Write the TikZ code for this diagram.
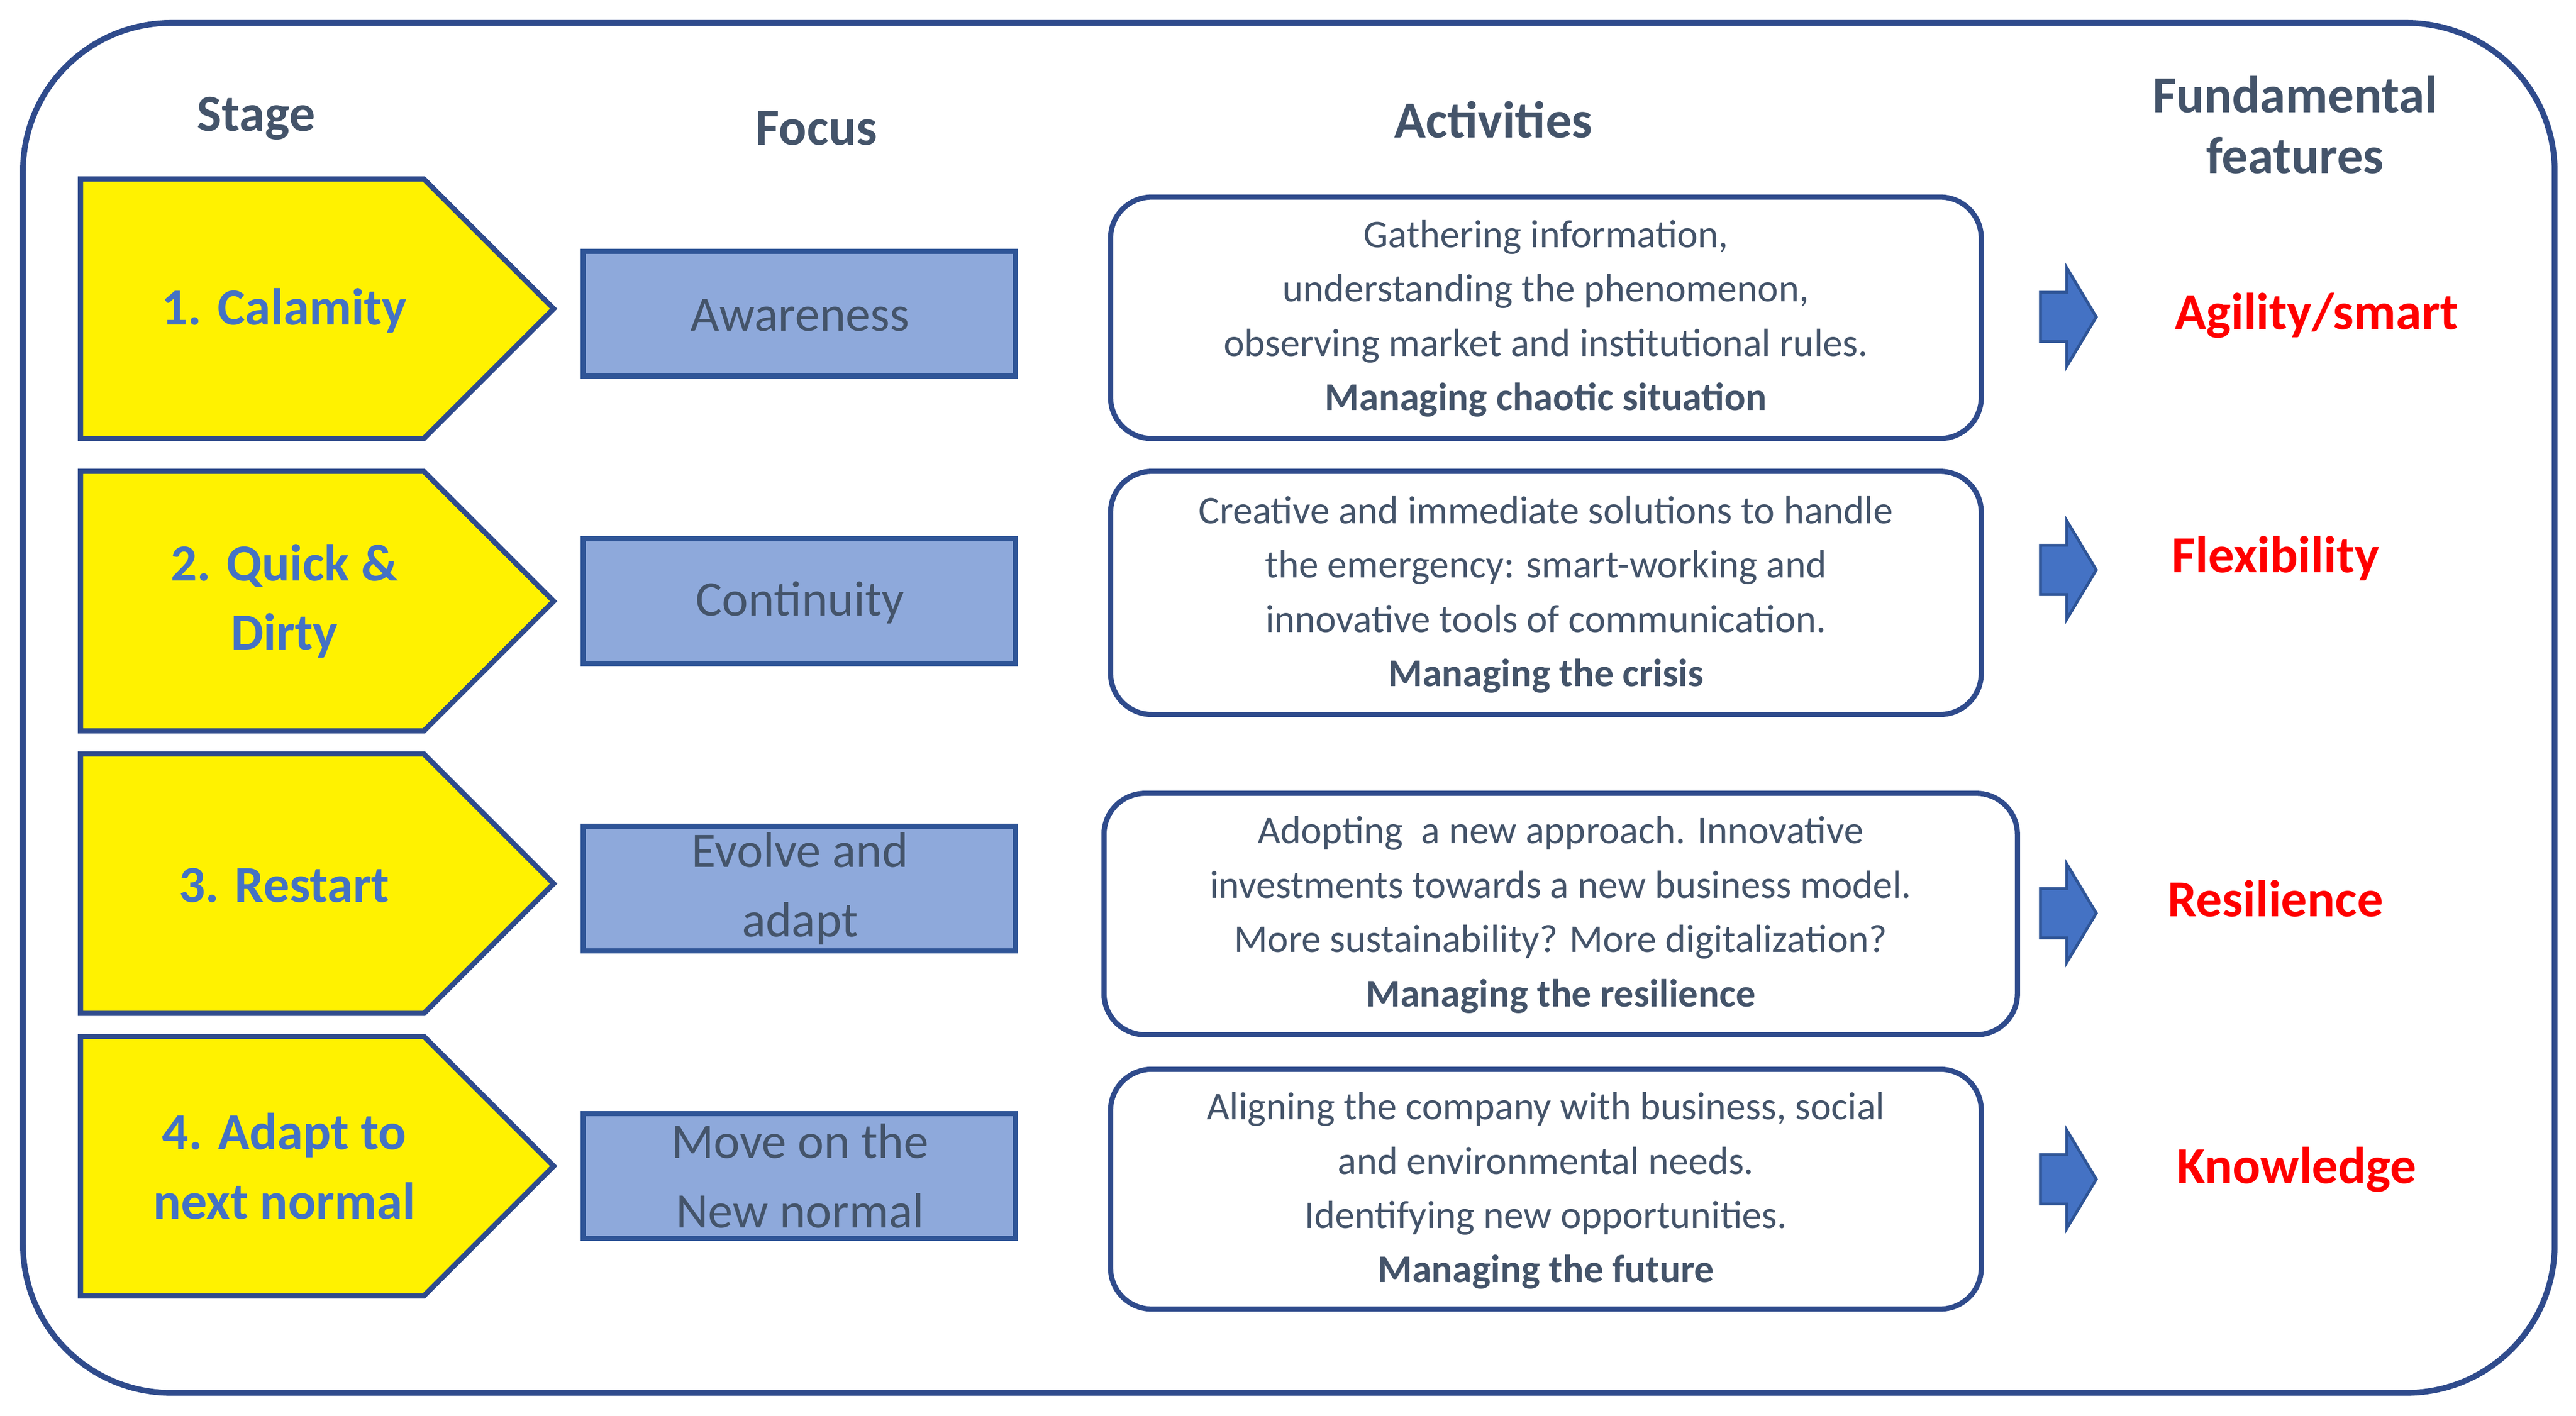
\documentclass[tikz,border=0pt]{standalone}
\usepackage{fontspec}
\setmainfont{Carlito}
\definecolor{frame}{HTML}{2F4B8C}
\definecolor{txt}{HTML}{44546A}
\definecolor{stagec}{HTML}{4472C4}
\definecolor{focusfill}{HTML}{8EA9DB}
\definecolor{focusline}{HTML}{2F5597}
\definecolor{arrowc}{HTML}{4472C4}
\begin{document}
\begin{tikzpicture}[x=0.01cm,y=-0.01cm,
  header/.style={font=\fontsize{9}{10.5}\selectfont\bfseries,text=txt,align=center},
  stagetxt/.style={font=\fontsize{9}{12}\selectfont\bfseries,text=stagec,align=center},
  focustxt/.style={font=\fontsize{8.6}{12}\selectfont,text=txt,align=center},
  acttxt/.style={font=\fontsize{6.8}{9.4}\selectfont,text=txt,align=center},
  feat/.style={font=\fontsize{9}{11}\selectfont\bfseries,text=red},
  pent/.style={draw=frame,fill=yellow,line width=0.9pt},
  focusbox/.style={draw=focusline,fill=focusfill,line width=0.9pt},
  actbox/.style={draw=frame,fill=white,rounded corners=0.25cm,line width=0.9pt},
  barrow/.style={fill=arrowc,draw=focusline,line width=0.5pt}]
\useasboundingbox (0,0) rectangle (1568,862);
\draw[frame,line width=1pt,rounded corners=0.9cm] (14,14) rectangle (1555,848);
\node[header] (h1) at (156,72) {Stage};
\node[header] (h2) at (497,78) {Focus};
\node[header] (h3) at (909,73) {Activities};
\node[header] (h4) at (1397,76) {Fundamental\\features};
\foreach \t/\b [count=\i] in {109/267,287/445,459/617,631/789}{
  \draw[pent] (49,\t) -- (258,\t) -- (337,{(\t+\b)/2}) -- (258,\b) -- (49,\b) -- cycle;
}
\node[stagetxt] (s1) at (173,189) {1. Calamity};
\node[stagetxt] (s2) at (173,366) {2. Quick \&\\Dirty};
\node[stagetxt] (s3) at (173,539) {3. Restart};
\node[stagetxt] (s4) at (173,710) {4. Adapt to\\next normal};
\foreach \t in {153,328,503,678}{
  \draw[focusbox] (355,\t) rectangle (618,\t+76);
}
\node[focustxt] (f1) at (487,192) {Awareness};
\node[focustxt] (f2) at (487,367) {Continuity};
\node[focustxt] (f3) at (487,541) {Evolve and\\adapt};
\node[focustxt] (f4) at (487,716) {Move on the\\New normal};
\draw[actbox] (676,120) rectangle (1206,267);
\draw[actbox] (676,287) rectangle (1206,435);
\draw[actbox] (672,483) rectangle (1228,630);
\draw[actbox] (676,651) rectangle (1206,797);
\node[acttxt] (a1) at (941,194) {Gathering information,\\understanding the phenomenon,\\observing market and institutional rules.\\\textbf{Managing chaotic situation}};
\node[acttxt] (a2) at (941,362) {Creative and immediate solutions to handle\\the emergency: smart-working and\\innovative tools of communication.\\\textbf{Managing the crisis}};
\node[acttxt] (a3) at (950,557) {Adopting\ \ a new approach. Innovative\\investments towards a new business model.\\More sustainability? More digitalization?\\\textbf{Managing the resilience}};
\node[acttxt] (a4) at (941,725) {Aligning the company with business, social\\and environmental needs.\\Identifying new opportunities.\\\textbf{Managing the future}};
\foreach \c in {193,347,556,718}{
  \draw[barrow] (1242,\c-15) -- (1258,\c-15) -- (1258,\c-30) -- (1276,\c) -- (1258,\c+30) -- (1258,\c+15) -- (1242,\c+15) -- cycle;
}
\node[feat] (k1) at (1410,192) {Agility/smart};
\node[feat] (k2) at (1385,340) {Flexibility};
\node[feat] (k3) at (1385,547) {Resilience};
\node[feat] (k4) at (1398,712) {Knowledge};
\end{tikzpicture}
\end{document}
